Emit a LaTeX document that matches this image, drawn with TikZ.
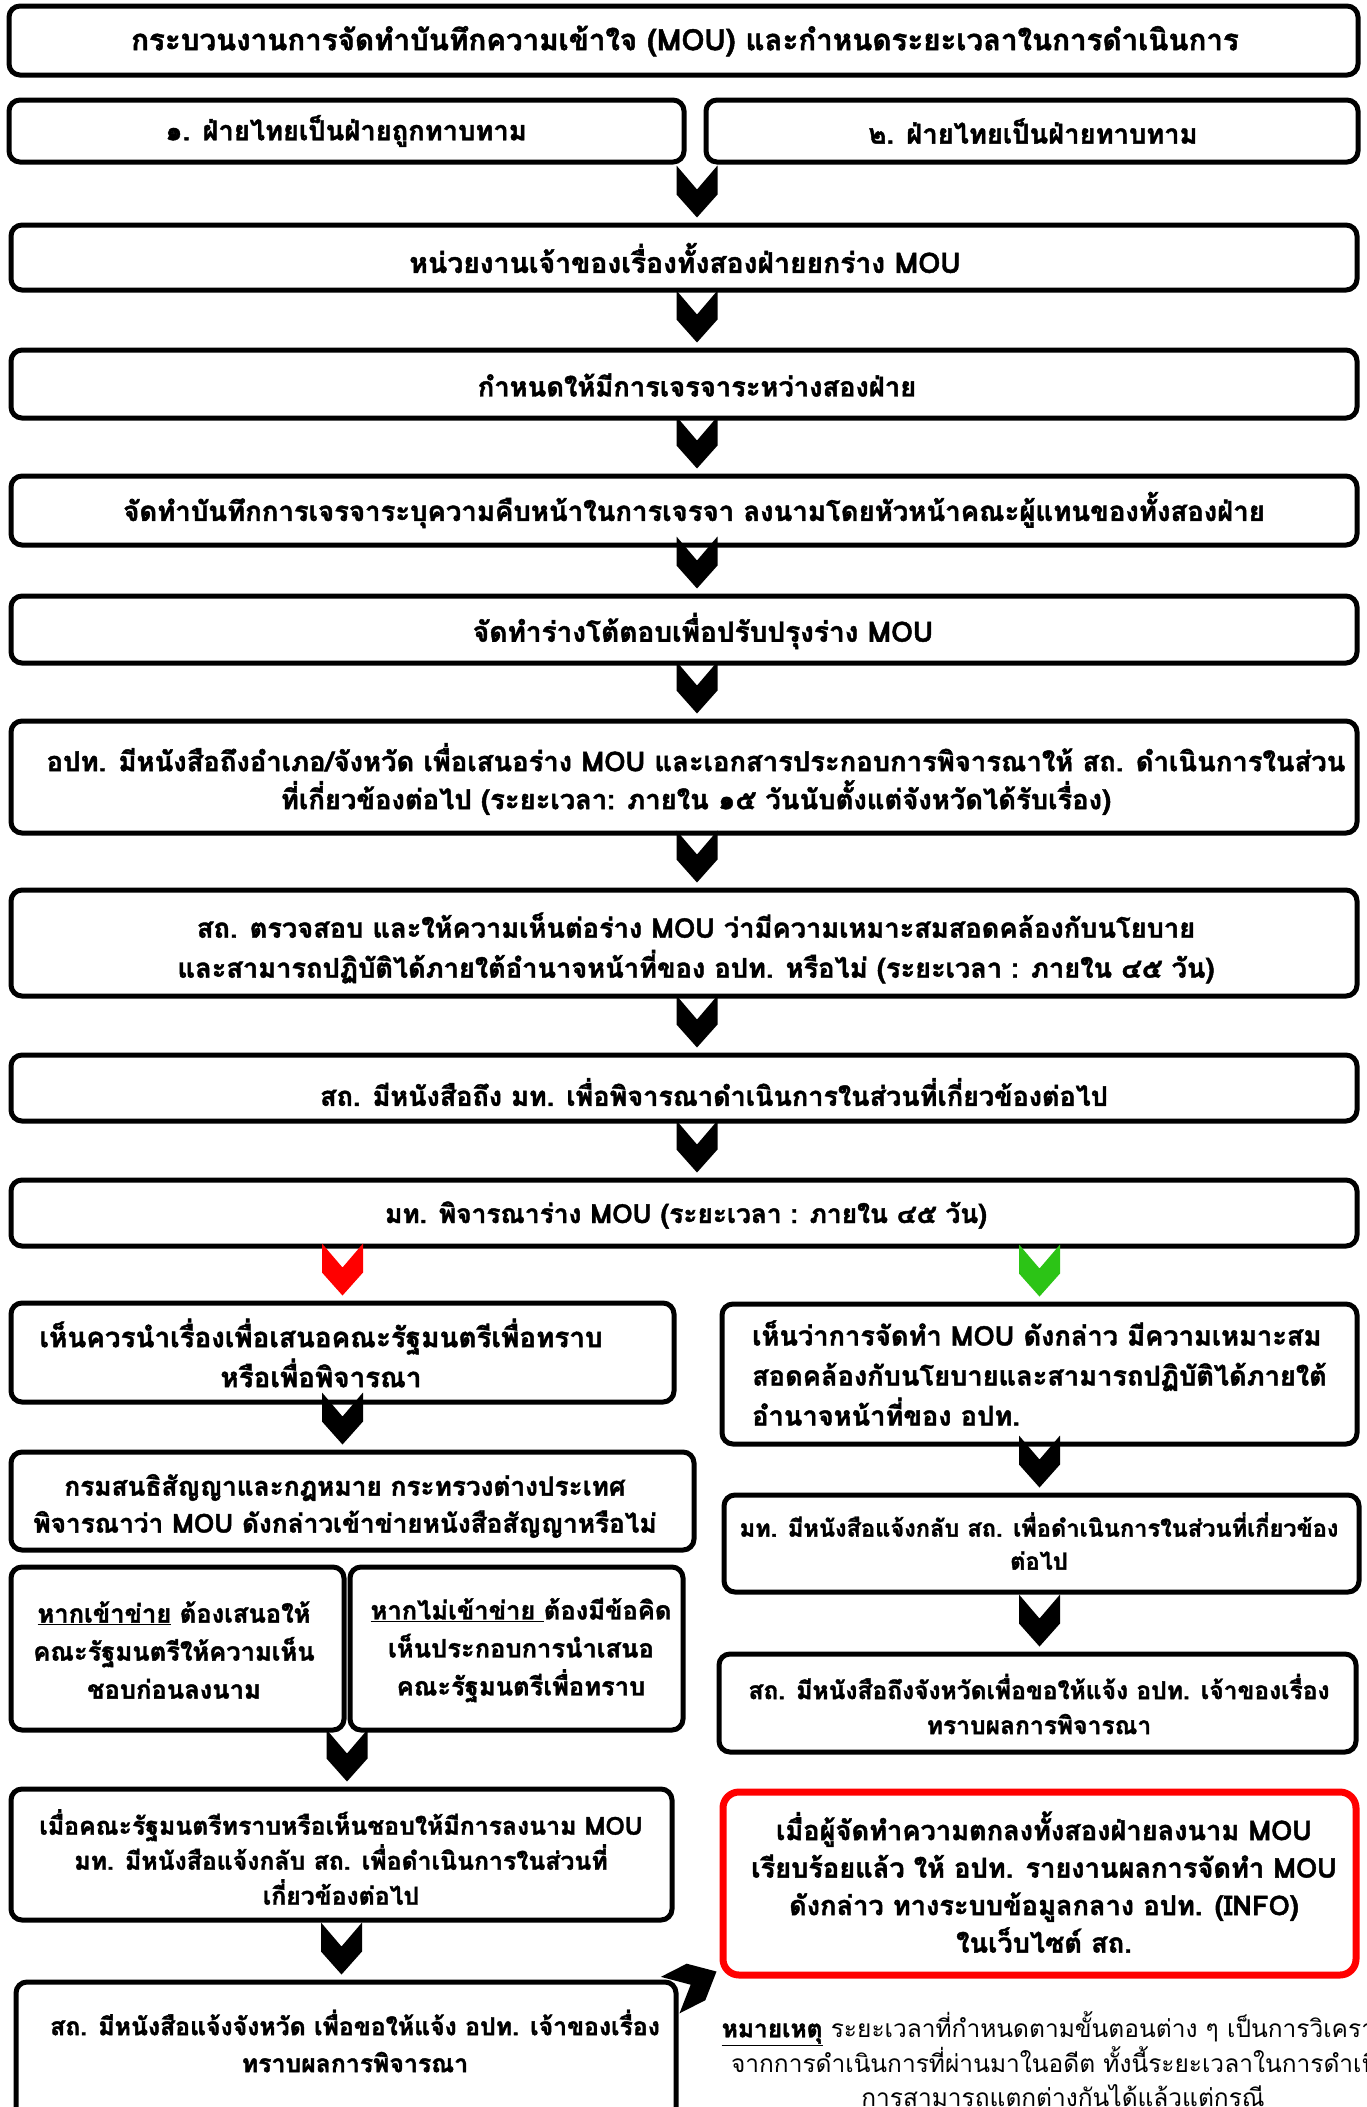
\documentclass[tikz,border=0pt]{standalone}
\usepackage{fontspec}
\setmainfont[Script=Thai, BoldFeatures={FakeBold=1.6}]{Loma}
\usetikzlibrary{calc}
\definecolor{rd}{RGB}{255,0,0}
\definecolor{gr}{RGB}{44,196,22}
\tikzset{
  box/.style={draw=black, line width=5pt, rounded corners=11pt, fill=white, inner sep=0pt},
  redbox/.style={draw=rd, line width=7pt, rounded corners=16pt, fill=white, inner sep=0pt},
  txt/.style={align=center, inner sep=0pt},
}
\newcommand\fs[2]{\fontsize{#1}{#2}\selectfont\bfseries}
% box: style, name, left, top, right, bottom (pixel units, y downwards)
\newcommand\bx[6][box]{%
  \pgfmathsetmacro\bw{#5-#3}\pgfmathsetmacro\bh{#6-#4}%
  \node[#1, minimum width=\bw pt, minimum height=\bh pt] (#2) at ({(#3+#5)/2},{(#4+#6)/2}) {};}
% chevron connector: colour, x reference, from node, to node
\newcommand\chev[4]{%
  \fill[#1] let \p1=(#2), \p2=(#4.north) in
    (\x1-20.5pt,\y2+57pt) -- (\x1,\y2+33pt) -- (\x1+20.5pt,\y2+57pt) --
    (\x1+20.5pt,\y2+28pt) -- (\x1,\y2+5pt) -- (\x1-20.5pt,\y2+28pt) -- cycle;}
\begin{document}
\begin{tikzpicture}[x=1pt,y=-1pt]
\useasboundingbox[fill=white] (0,0) rectangle (1367,2107);
% main column
\bx{T}{9}{6}{1358}{75}
\bx{B1}{9}{100}{684}{162}
\bx{B2}{706}{100}{1358}{162}
\bx{B3}{11}{225}{1357}{290}
\bx{B4}{11}{350}{1357}{418}
\bx{B5}{11}{476}{1357}{545}
\bx{B6}{11}{596}{1357}{663}
\bx{B7}{11}{721}{1357}{833}
\bx{B8}{11}{890}{1357}{996}
\bx{B9}{11}{1055}{1357}{1121}
\bx{B10}{11}{1180}{1357}{1246}
% left column
\bx{A}{11}{1303}{674}{1402}
\bx{C}{11}{1452}{694}{1550}
\bx{D}{11}{1567}{344}{1730}
\bx{E}{350}{1567}{683}{1730}
\bx{H}{11}{1789}{672}{1920}
\bx{I}{16}{1982}{676}{2140}
% right column
\bx{R}{722}{1304}{1357}{1444}
\bx{F}{724}{1495}{1359}{1592}
\bx{G}{719}{1654}{1356}{1752}
\bx[redbox]{J}{723}{1792}{1356}{1975}

\coordinate (axM) at (697,0);
\coordinate (axDE) at ($(D.east)!0.5!(E.west)$);

% connectors
\chev{black}{axM}{B1}{B3}
\chev{black}{axM}{B3}{B4}
\chev{black}{axM}{B4}{B5}
\chev{black}{axM}{B5}{B6}
\chev{black}{axM}{B6}{B7}
\chev{black}{axM}{B7}{B8}
\chev{black}{axM}{B8}{B9}
\chev{black}{axM}{B9}{B10}
\chev{rd}{A}{B10}{A}
\chev{gr}{R}{B10}{R}
\chev{black}{A}{A}{C}
\chev{black}{axDE}{D}{H}
\chev{black}{H}{H}{I}
\chev{black}{R}{R}{F}
\chev{black}{R}{F}{G}
\coordinate (dtip) at ($(J.south west)+(-3,-7)$);
\fill[shift={(dtip)}, rotate=27]
  (-52pt,20.5pt) -- (-29pt,-0pt) -- (-52pt,-20.5pt) -- (-23pt,-20.5pt) -- (0pt,0pt) -- (-23pt,20.5pt) -- cycle;

% texts
\node[txt, font=\fs{29.5}{38}] (Tt) at (685,41) {กระบวนงานการจัดทำบันทึกความเข้าใจ (MOU) และกำหนดระยะเวลาในการดำเนินการ};
\node[txt, font=\fs{27.3}{38}] (B1t) at (346,131) {๑. ฝ่ายไทยเป็นฝ่ายถูกทาบทาม};
\node[txt, font=\fs{27.3}{38}] (B2t) at (1033,131) {๒. ฝ่ายไทยเป็นฝ่ายทาบทาม};
\node[txt, font=\fs{28.3}{38}] (B3t) at (685,258) {หน่วยงานเจ้าของเรื่องทั้งสองฝ่ายยกร่าง MOU};
\node[txt, font=\fs{27.3}{38}] (B4t) at (697,385) {กำหนดให้มีการเจรจาระหว่างสองฝ่าย};
\node[txt, font=\fs{27.5}{38}] (B5t) at (694,510) {จัดทำบันทึกการเจรจาระบุความคืบหน้าในการเจรจา ลงนามโดยหัวหน้าคณะผู้แทนของทั้งสองฝ่าย};
\node[txt, font=\fs{28}{38}] (B6t) at (703,631) {จัดทำร่างโต้ตอบเพื่อปรับปรุงร่าง MOU};
\node[txt, font=\fs{27.4}{38}] (B7t) at (696,779) {อปท. มีหนังสือถึงอำเภอ/จังหวัด เพื่อเสนอร่าง MOU และเอกสารประกอบการพิจารณาให้ สถ. ดำเนินการในส่วน\\ที่เกี่ยวข้องต่อไป (ระยะเวลา: ภายใน ๑๕ วันนับตั้งแต่จังหวัดได้รับเรื่อง)};
\node[txt, font=\fs{27.2}{40}] (B8t) at (696,948) {สถ. ตรวจสอบ และให้ความเห็นต่อร่าง MOU ว่ามีความเหมาะสมสอดคล้องกับนโยบาย\\และสามารถปฏิบัติได้ภายใต้อำนาจหน้าที่ของ อปท. หรือไม่ (ระยะเวลา : ภายใน ๔๕ วัน)};
\node[txt, font=\fs{27}{38}] (B9t) at (714,1092) {สถ. มีหนังสือถึง มท. เพื่อพิจารณาดำเนินการในส่วนที่เกี่ยวข้องต่อไป};
\node[txt, font=\fs{26.3}{38}] (B10t) at (686,1215) {มท. พิจารณาร่าง MOU (ระยะเวลา : ภายใน ๔๕ วัน)};

\node[txt, font=\fs{27.8}{40}] (At) at (321,1353) {เห็นควรนำเรื่องเพื่อเสนอคณะรัฐมนตรีเพื่อทราบ\\หรือเพื่อพิจารณา};
\node[txt, font=\fs{26.2}{37}] (Ct) at (345,1506) {กรมสนธิสัญญาและกฎหมาย กระทรวงต่างประเทศ\\พิจารณาว่า MOU ดังกล่าวเข้าข่ายหนังสือสัญญาหรือไม่};
\node[txt, font=\fs{25.5}{38}] (Dt) at (174,1650) {\underline{หากเข้าข่าย} ต้องเสนอให้\\คณะรัฐมนตรีให้ความเห็น\\ชอบก่อนลงนาม};
\node[txt, font=\fs{25.5}{38}] (Et) at (521,1650) {\underline{หากไม่เข้าข่าย }ต้องมีข้อคิด\\เห็นประกอบการนำเสนอ\\คณะรัฐมนตรีเพื่อทราบ};
\node[txt, font=\fs{24.8}{35}] (Ht) at (341,1857) {เมื่อคณะรัฐมนตรีทราบหรือเห็นชอบให้มีการลงนาม MOU\\มท. มีหนังสือแจ้งกลับ สถ. เพื่อดำเนินการในส่วนที่\\เกี่ยวข้องต่อไป};
\node[txt, font=\fs{24.8}{37}] (It) at (355,2041) {สถ. มีหนังสือแจ้งจังหวัด เพื่อขอให้แจ้ง อปท. เจ้าของเรื่อง\\ทราบผลการพิจารณา};

\node[txt, align=left, anchor=west, font=\fs{27.2}{40}] (Rt) at (752,1373) {เห็นว่าการจัดทำ MOU ดังกล่าว มีความเหมาะสม\\สอดคล้องกับนโยบายและสามารถปฏิบัติได้ภายใต้\\อำนาจหน้าที่ของ อปท.};
\node[txt, font=\fs{23.6}{33}] (Ft) at (1039,1541) {มท. มีหนังสือแจ้งกลับ สถ. เพื่อดำเนินการในส่วนที่เกี่ยวข้อง\\ต่อไป};
\node[txt, font=\fs{24.6}{35}] (Gt) at (1039,1704) {สถ. มีหนังสือถึงจังหวัดเพื่อขอให้แจ้ง อปท. เจ้าของเรื่อง\\ทราบผลการพิจารณา};
\node[txt, font=\fs{27.2}{37.5}] (Jt) at (1044,1882) {เมื่อผู้จัดทำความตกลงทั้งสองฝ่ายลงนาม MOU\\เรียบร้อยแล้ว ให้ อปท. รายงานผลการจัดทำ MOU\\ดังกล่าว ทางระบบข้อมูลกลาง อปท. (INFO)\\ในเว็บไซต์ สถ.};

\node[txt, font=\fontsize{24.5}{34}\selectfont] (N) at (1063,2059) {{\bfseries\underline{หมายเหตุ}} ระยะเวลาที่กำหนดตามขั้นตอนต่าง ๆ เป็นการวิเคราะห์\\จากการดำเนินการที่ผ่านมาในอดีต ทั้งนี้ระยะเวลาในการดำเนิน\\การสามารถแตกต่างกันได้แล้วแต่กรณี};
\end{tikzpicture}
\end{document}
